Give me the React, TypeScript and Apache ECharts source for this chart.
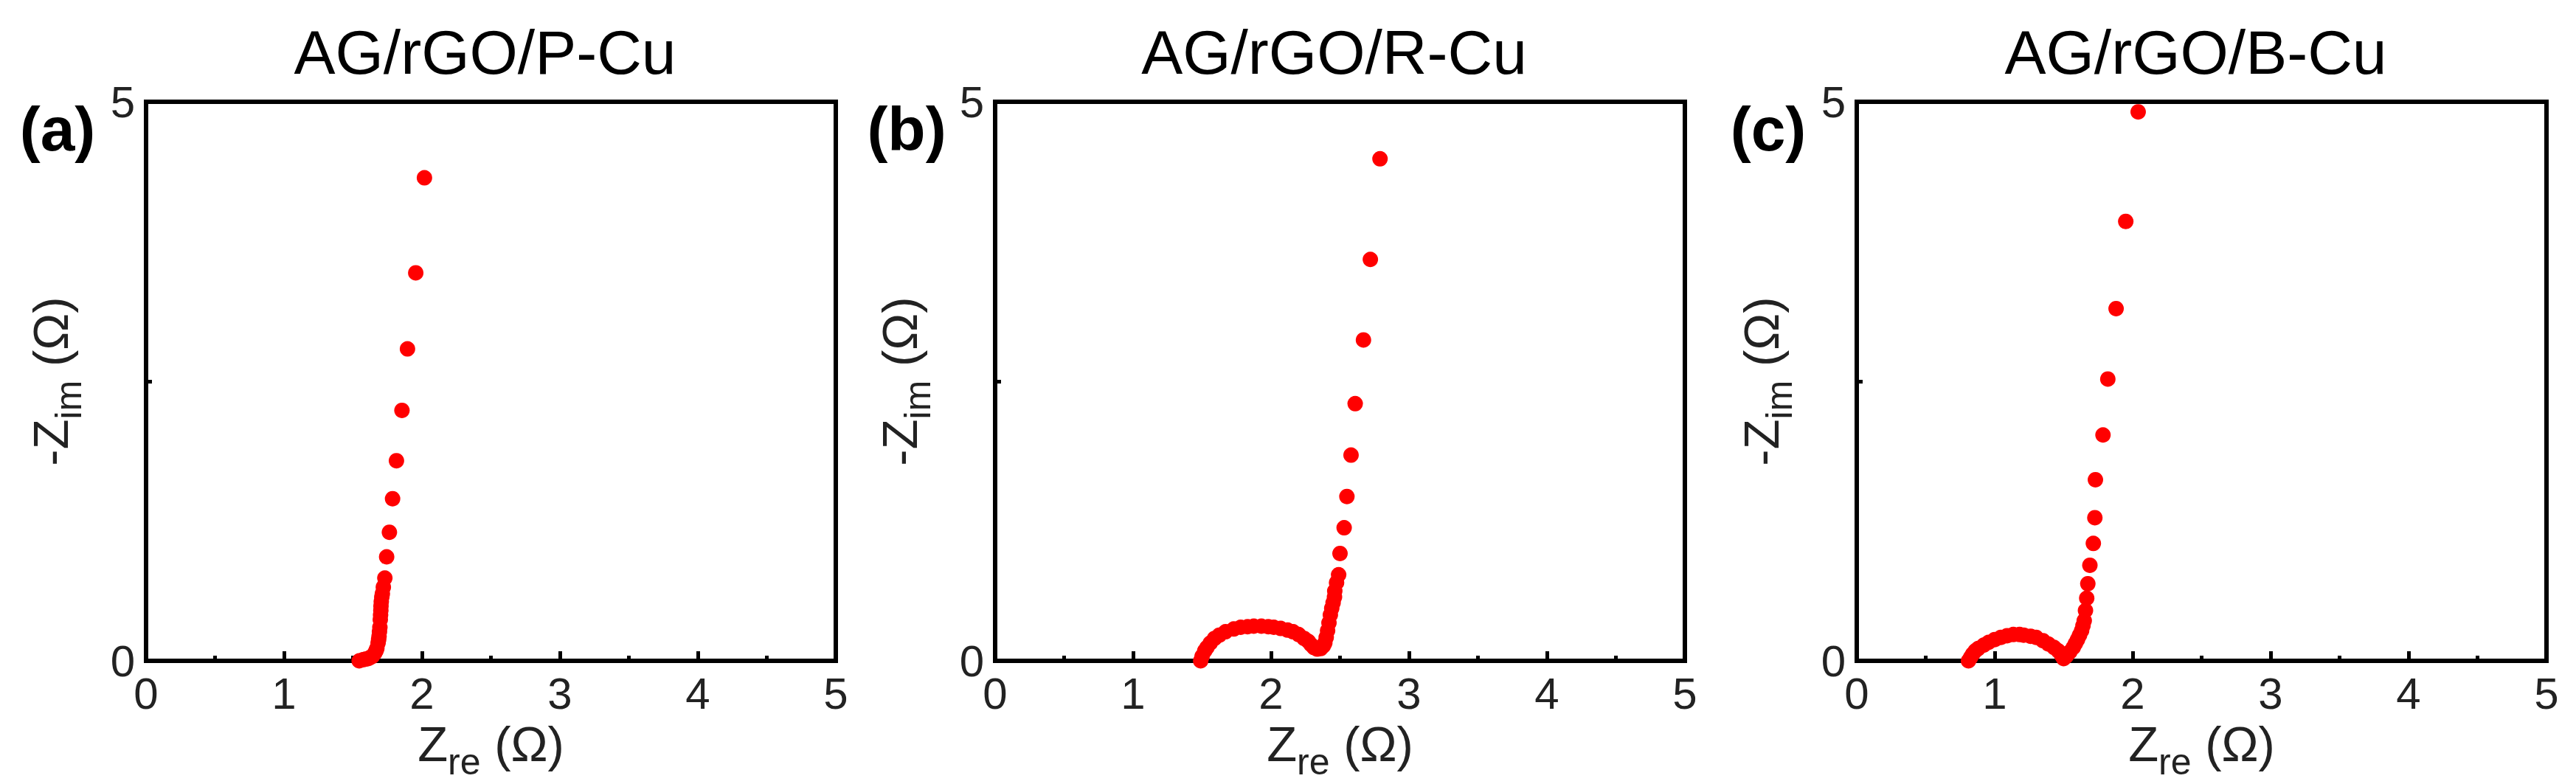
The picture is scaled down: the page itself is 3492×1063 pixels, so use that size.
import React, { useEffect, useRef } from "react";
import * as echarts from "echarts";

// ---- data ----
const panelTitles = ["AG/rGO/P-Cu", "AG/rGO/R-Cu", "AG/rGO/B-Cu"];
const panelTags = ["(a)", "(b)", "(c)"];
const xTicks = [0, 1, 2, 3, 4, 5];
const yTickLabels = [0, 5];

const pCu: number[][] = [
  [1.545, 0.0], [1.573, 0.01], [1.59, 0.015], [1.61, 0.02], [1.625, 0.03], [1.64, 0.04],
  [1.658, 0.07], [1.667, 0.09], [1.673, 0.11], [1.682, 0.16], [1.686, 0.19], [1.689, 0.22],
  [1.692, 0.26], [1.695, 0.3], [1.698, 0.37], [1.7, 0.41], [1.702, 0.45], [1.703, 0.49],
  [1.705, 0.53], [1.709, 0.57], [1.713, 0.6], [1.72, 0.66], [1.731, 0.74], [1.744, 0.93],
  [1.764, 1.15], [1.787, 1.45], [1.815, 1.79], [1.855, 2.24], [1.895, 2.79], [1.955, 3.47],
  [2.018, 4.32],
];

const rCu: number[][] = [
  [1.49, 0.0], [1.5, 0.04], [1.52, 0.09], [1.536, 0.12], [1.56, 0.16], [1.59, 0.2],
  [1.625, 0.23], [1.67, 0.26], [1.73, 0.285], [1.78, 0.3], [1.83, 0.305], [1.875, 0.31],
  [1.93, 0.31], [1.98, 0.305], [2.02, 0.3], [2.07, 0.29], [2.12, 0.275], [2.16, 0.26],
  [2.2, 0.235], [2.24, 0.2], [2.27, 0.175], [2.29, 0.145], [2.31, 0.12], [2.335, 0.105],
  [2.36, 0.11], [2.38, 0.135], [2.39, 0.16], [2.4, 0.21], [2.41, 0.27], [2.42, 0.34],
  [2.43, 0.41], [2.44, 0.47], [2.45, 0.52], [2.46, 0.57], [2.462, 0.625], [2.475, 0.7],
  [2.49, 0.77], [2.5, 0.96], [2.53, 1.19], [2.55, 1.47], [2.58, 1.84], [2.61, 2.3],
  [2.67, 2.87], [2.72, 3.59], [2.79, 4.49],
];

const bCu: number[][] = [
  [0.81, 0.0], [0.825, 0.03], [0.84, 0.06], [0.86, 0.09], [0.88, 0.11], [0.92, 0.14],
  [0.955, 0.165], [1.0, 0.19], [1.045, 0.21], [1.09, 0.225], [1.135, 0.235], [1.18, 0.235],
  [1.21, 0.23], [1.26, 0.22], [1.3, 0.21], [1.35, 0.18], [1.39, 0.15], [1.43, 0.12],
  [1.46, 0.09], [1.485, 0.05], [1.5, 0.02], [1.52, 0.044], [1.545, 0.08], [1.57, 0.12],
  [1.585, 0.155], [1.6, 0.19], [1.615, 0.23], [1.63, 0.27], [1.64, 0.315], [1.649, 0.36],
  [1.658, 0.45], [1.667, 0.56], [1.675, 0.69], [1.69, 0.855], [1.715, 1.05], [1.726, 1.28],
  [1.73, 1.62], [1.785, 2.02], [1.82, 2.52], [1.88, 3.15], [1.95, 3.93], [2.04, 4.91],
];

const panelData = [pCu, rCu, bCu];

// ---- layout ----
const FONT = "'Liberation Sans', Arial, sans-serif";
const gridLefts = [198, 1349, 2517];
const gridTop = 138;
const gridW = 935;
const gridH = 758;

const nameRich = {
  m: { fontSize: 67, fontFamily: FONT, color: "#222", lineHeight: 67, verticalAlign: "bottom", padding: [0, 0, 16, 0] },
  s: { fontSize: 50, fontFamily: FONT, color: "#222", lineHeight: 50, verticalAlign: "bottom" },
};

export default function App() {
  const ref = useRef<HTMLDivElement>(null);
  useEffect(() => {
    if (!ref.current) return;
    const chart = echarts.init(ref.current, null, { renderer: "svg" });
    const grids = gridLefts.map((l) => ({
      left: l, top: gridTop, width: gridW, height: gridH,
      show: true, borderColor: "#000", borderWidth: 6, backgroundColor: "transparent",
    }));
    const xAxes = gridLefts.map((_, i) => ({
      type: "value", gridIndex: i, min: xTicks[0], max: xTicks[xTicks.length - 1], interval: 1,
      axisLine: { show: true, onZero: false, lineStyle: { color: "#000", width: 6 } },
      axisTick: { show: true, inside: true, length: 13, lineStyle: { color: "#000", width: 5 } },
      minorTick: { show: true, splitNumber: 2, length: 7, lineStyle: { color: "#000", width: 5 } },
      splitLine: { show: false },
      minorSplitLine: { show: false },
      axisLabel: { fontSize: 60, fontFamily: FONT, color: "#222", margin: 14 },
      name: "{m|Z}{s|re}{m| (Ω)}",
      nameLocation: "middle",
      nameGap: 72,
      nameTextStyle: { rich: nameRich },
    }));
    const yAxes = gridLefts.map((_, i) => ({
      type: "value", gridIndex: i, min: 0, max: 5, interval: 2.5,
      axisLine: { show: true, onZero: false, lineStyle: { color: "#000", width: 6 } },
      axisTick: { show: true, inside: true, length: 8, lineStyle: { color: "#000", width: 5 } },
      splitLine: { show: false },
      axisLabel: {
        fontSize: 60, fontFamily: FONT, color: "#222", margin: 15, padding: [0, 0, 14, 0],
        formatter: (v: number) => (yTickLabels.includes(v) ? String(v) : ""),
      },
      name: "{m|-Z}{s|im}{m| (Ω)}",
      nameLocation: "middle",
      nameRotate: 90,
      nameGap: 80,
      nameTextStyle: { rich: nameRich },
    }));
    const series = panelData.map((d, i) => ({
      type: "scatter", xAxisIndex: i, yAxisIndex: i, data: d,
      symbol: "circle", symbolSize: 21,
      itemStyle: { color: "#ff0000", opacity: 1 },
    }));
    const graphic: any[] = [];
    gridLefts.forEach((l, i) => {
      graphic.push({
        type: "text", x: l + gridW / 2 - 8, y: 71,
        style: {
          text: panelTitles[i], fontSize: 84, fontFamily: FONT, fill: "#000",
          align: "center", verticalAlign: "middle", textAlign: "center", textVerticalAlign: "middle",
        },
      });
      graphic.push({
        type: "text", x: l - 120, y: 175,
        style: {
          text: panelTags[i], fontSize: 84, fontWeight: "bold", fontFamily: FONT, fill: "#000",
          align: "center", verticalAlign: "middle", textAlign: "center", textVerticalAlign: "middle",
        },
      });
    });
    chart.setOption({
      animation: false,
      backgroundColor: "#fff",
      grid: grids,
      xAxis: xAxes,
      yAxis: yAxes,
      series,
      graphic,
    });
    return () => chart.dispose();
  }, []);
  return (
    <div
      ref={ref}
      style={{ position: "absolute", left: 0, top: 0, width: 3492, height: 1063, background: "#fff" }}
    />
  );
}
